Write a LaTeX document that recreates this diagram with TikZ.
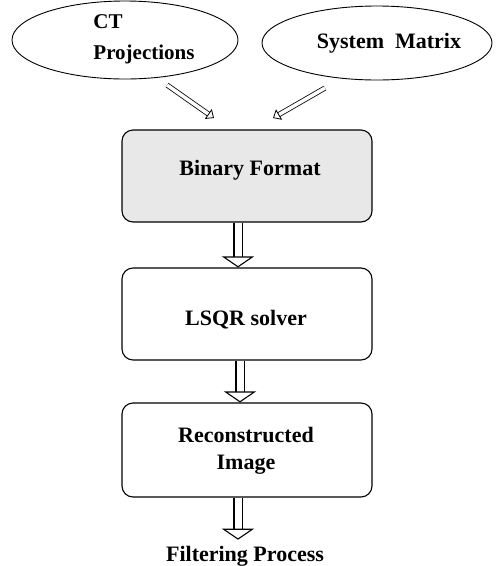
\documentclass[tikz,border=0pt]{standalone}
\usepackage{fontspec}
\setmainfont{Liberation Serif}
\usetikzlibrary{shapes.geometric,arrows.meta}
\begin{document}
\begin{tikzpicture}[x=1pt,y=-1pt,
  txt/.style={font=\fontsize{22}{30}\selectfont\bfseries, inner sep=0pt, align=center},
  oval/.style={draw, ellipse, line width=0.9pt, inner sep=0pt},
  stepbox/.style={draw, rounded corners=11pt, line width=1.1pt, minimum width=250pt, inner sep=0pt},
  bigarrow/.style={double, double distance=7pt, line width=1.2pt,
     -{Triangle[open, length=11pt, width=32pt, line width=1.1pt]}},
  smallarrow/.style={double, double distance=3.5pt, line width=0.8pt,
     -{Triangle[open, length=7pt, width=12pt, line width=0.8pt]}}]
\useasboundingbox (0,0) rectangle (496,566);
% ellipses
\node[oval, minimum width=226pt, minimum height=78pt] (ctE) at (125,40) {};
\node[txt, align=left, font=\fontsize{21}{31}\selectfont\bfseries] (ct) at (144,39) {CT\\Projections};
\node[oval, minimum width=230pt, minimum height=74pt] (smE) at (377,43) {};
\node[txt] (sm) at (389,43) {System\ \ Matrix};
% boxes
\node[stepbox, fill=black!9, minimum height=92pt] (bin) at (247,176) {};
\node[txt] (binT) at (250,170) {Binary Format};
\node[stepbox, minimum height=92pt] (lsqr) at (247,314) {};
\node[txt] (lsqrT) at (246,320) {LSQR solver};
\node[stepbox, minimum height=94pt] (rec) at (247,450) {};
\node[txt, font=\fontsize{22}{27}\selectfont\bfseries] (recT) at (246,451) {Reconstructed\\Image};
\node[txt] (filt) at (245,556) {Filtering Process};
% arrow ends
\coordinate (a1s) at (167,85);
\coordinate (a1e) at (214,118);
\coordinate (a2s) at (325,88);
\coordinate (a2e) at (273,118);
\draw[smallarrow] (a1s) -- (a1e);
\draw[smallarrow] (a2s) -- (a2e);
\draw[bigarrow] (bin.south -| 238,0) -- (lsqr.north -| 238,0);
\draw[bigarrow] (lsqr.south -| 240,0) -- (rec.north -| 240,0);
\draw[bigarrow] (rec.south -| 238,0) -- ([yshift=6pt]filt.north -| 238,0);
\end{tikzpicture}
\end{document}
